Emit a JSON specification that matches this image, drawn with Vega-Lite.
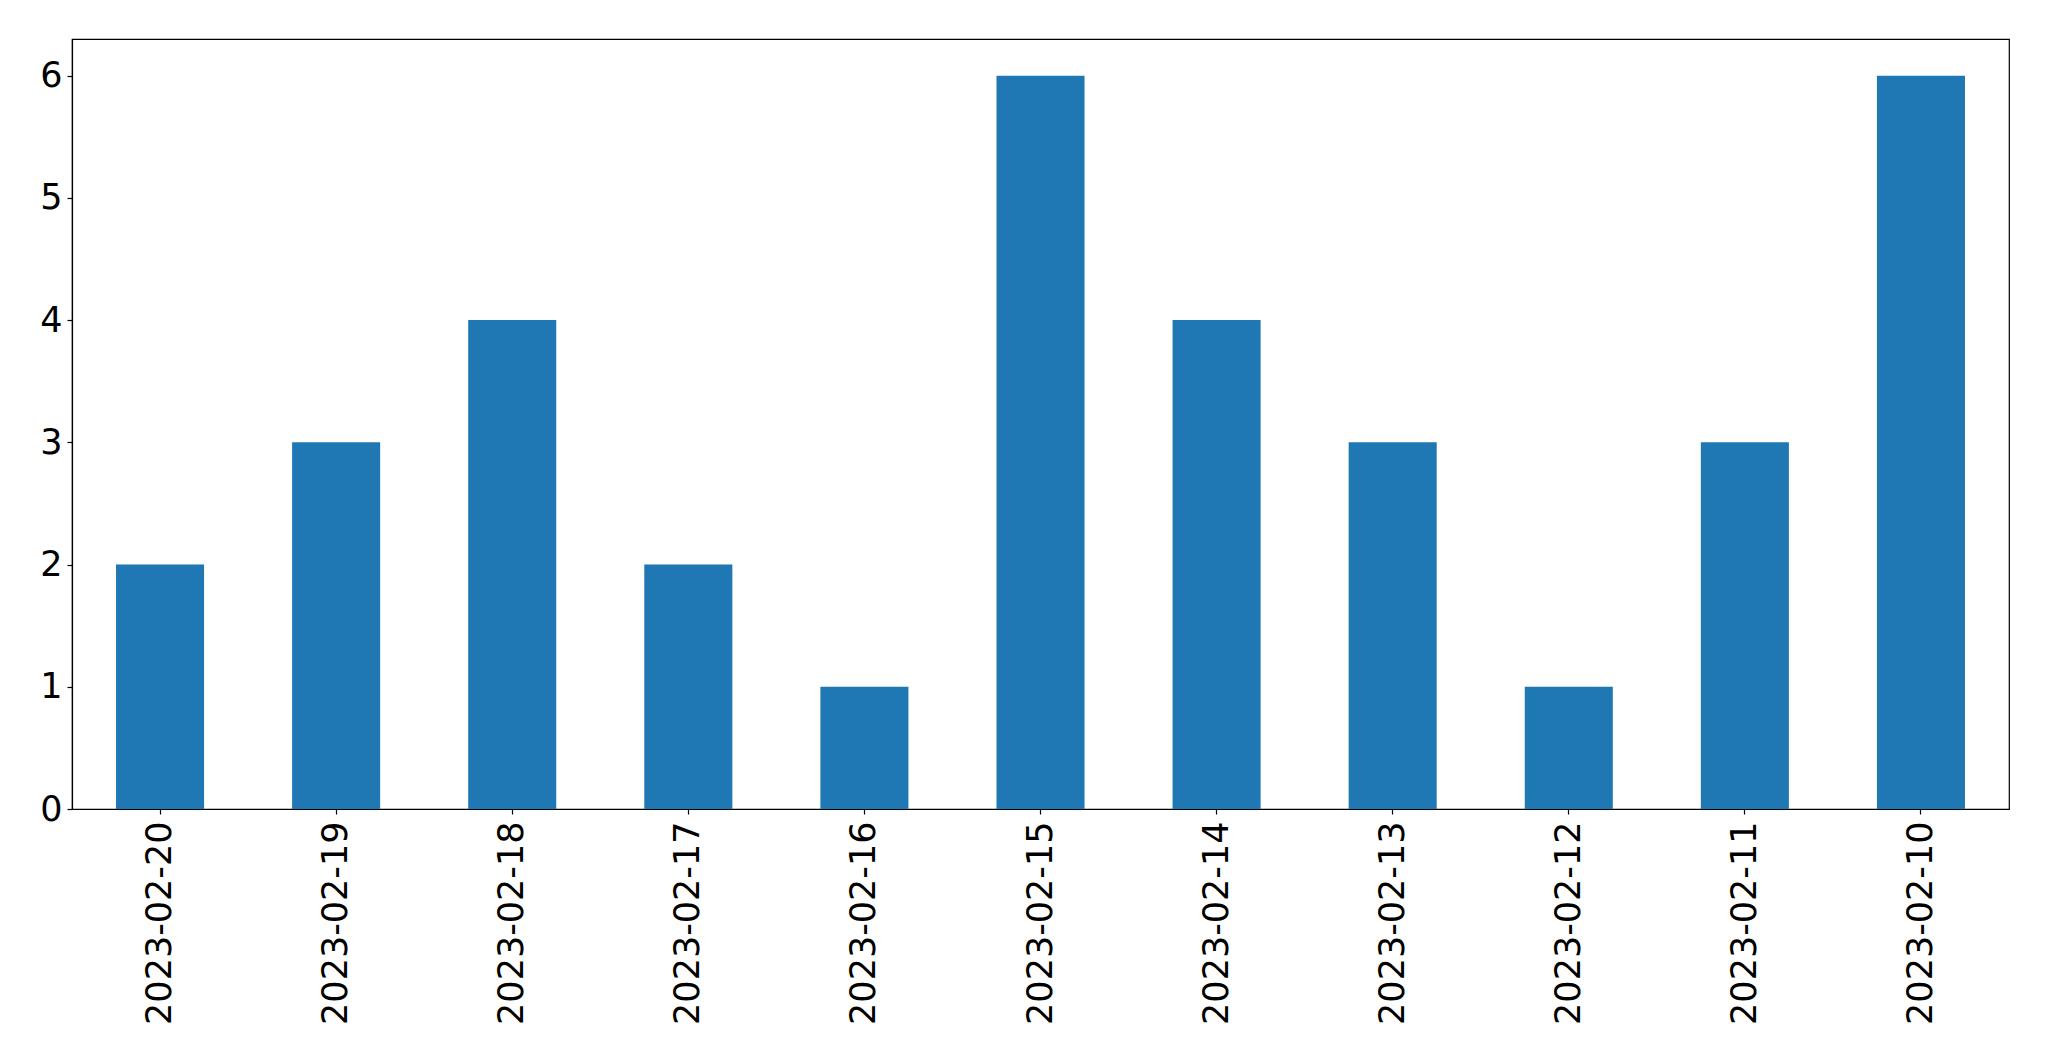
{
  "$schema": "https://vega.github.io/schema/vega-lite/v6.json",
  "width": 1937,
  "height": 770,
  "autosize": {"type": "none"},
  "padding": {"left": 72, "top": 39, "right": 40, "bottom": 252},
  "background": "white",
  "config": {
    "view": {"stroke": "black", "strokeWidth": 1.2},
    "axis": {
      "labelFont": "DejaVu Sans",
      "labelFontSize": 35,
      "labelColor": "black",
      "labelLimit": 0,
      "tickColor": "black",
      "tickSize": 5,
      "tickWidth": 1.2,
      "domainColor": "black",
      "domainWidth": 1.2,
      "grid": false,
      "title": null
    }
  },
  "data": {
    "values": [
      {"date": "2023-02-20", "count": 2},
      {"date": "2023-02-19", "count": 3},
      {"date": "2023-02-18", "count": 4},
      {"date": "2023-02-17", "count": 2},
      {"date": "2023-02-16", "count": 1},
      {"date": "2023-02-15", "count": 6},
      {"date": "2023-02-14", "count": 4},
      {"date": "2023-02-13", "count": 3},
      {"date": "2023-02-12", "count": 1},
      {"date": "2023-02-11", "count": 3},
      {"date": "2023-02-10", "count": 6}
    ]
  },
  "mark": {"type": "bar", "color": "#1f77b4"},
  "encoding": {
    "x": {
      "field": "date",
      "type": "nominal",
      "sort": null,
      "scale": {"paddingInner": 0.5, "paddingOuter": 0.25},
      "axis": {"labelAngle": -90, "labelPadding": 7}
    },
    "y": {
      "field": "count",
      "type": "quantitative",
      "scale": {"domain": [0, 6.3], "nice": false},
      "axis": {"values": [0, 1, 2, 3, 4, 5, 6], "labelPadding": 5}
    }
  }
}
